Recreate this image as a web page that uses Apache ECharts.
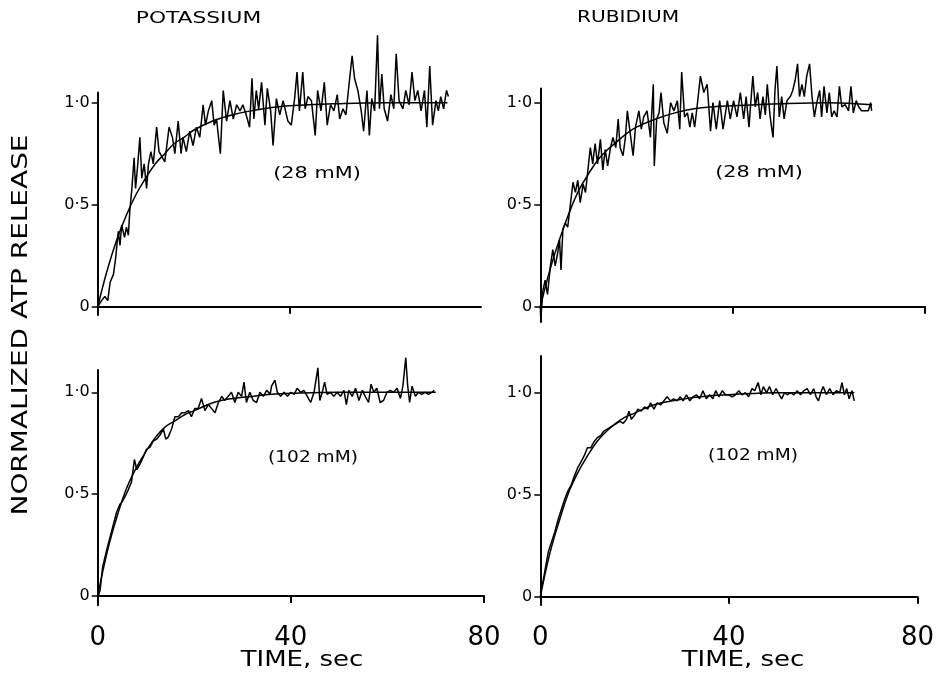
<!DOCTYPE html>
<html>
<head>
<meta charset="utf-8">
<script src="https://cdn.jsdelivr.net/npm/echarts@6/dist/echarts.min.js"></script>
<style>
html,body{margin:0;padding:0;background:#fff;}
#c{width:937px;height:676px;}
</style>
</head>
<body>
<div id="c"></div>
<script>
// ---- data (time in sec, normalized ATP release) ----
const panelTitles = ['POTASSIUM', 'RUBIDIUM'];
const concLabels = ['(28 mM)', '(28 mM)', '(102 mM)', '(102 mM)'];
const xTickValues = [0, 40, 80];
const yTickValues = [0, 0.5, 1.0];
const xAxisTitle = 'TIME, sec';
const yAxisTitle = 'NORMALIZED ATP RELEASE';

const potassium28Trace = [[0,0],[0.8,0.03],[1.5,0.05],[2.1,0.03],[2.6,0.12],[3.3,0.16],[3.75,0.24],[4.3,0.37],[4.65,0.30],[5.0,0.40],[5.6,0.34],[6.0,0.39],[6.4,0.35],[6.7,0.47],[7.1,0.57],[7.6,0.73],[7.9,0.58],[8.3,0.68],[8.8,0.83],[9.2,0.63],[9.7,0.70],[10.2,0.58],[10.6,0.70],[11.1,0.76],[11.6,0.70],[12.3,0.88],[12.8,0.76],[13.3,0.74],[14.0,0.71],[14.9,0.88],[15.6,0.83],[16.1,0.75],[16.8,0.91],[17.4,0.75],[17.8,0.83],[18.5,0.76],[19.2,0.86],[19.9,0.79],[20.6,0.88],[21.3,0.83],[22.0,0.99],[22.5,0.89],[23.1,0.96],[23.8,1.01],[24.3,0.89],[24.8,0.92],[25.6,0.75],[26.2,1.06],[26.9,0.91],[27.6,1.01],[28.3,0.92],[29.0,0.99],[29.7,0.96],[30.3,0.99],[31.0,0.94],[31.7,0.88],[32.2,1.12],[32.6,0.92],[33.1,1.06],[33.6,0.97],[34.2,1.10],[34.9,0.89],[35.4,1.07],[36.1,0.96],[36.6,0.79],[37.3,1.02],[38.0,0.94],[38.7,1.01],[39.7,0.91],[40.4,0.89],[41.1,1.02],[41.6,1.15],[42.1,0.96],[42.8,1.15],[43.3,0.97],[43.9,1.03],[44.6,1.01],[45.4,0.84],[45.9,1.06],[46.6,0.96],[47.3,1.10],[47.9,0.89],[48.6,0.99],[49.3,0.96],[50.0,1.04],[50.5,0.92],[51.2,0.97],[51.8,0.94],[52.5,1.10],[53.1,1.23],[53.6,1.12],[54.3,1.06],[55.0,0.96],[55.5,0.86],[56.2,1.06],[56.7,0.84],[57.2,1.02],[57.8,0.96],[58.4,1.33],[58.8,0.97],[59.3,1.14],[59.8,0.97],[60.5,0.91],[61.2,1.04],[61.8,0.97],[62.3,1.24],[62.9,1.01],[63.7,0.97],[64.3,1.06],[65.0,0.99],[65.6,1.15],[66.2,1.01],[66.8,1.06],[67.5,0.96],[68.2,1.06],[68.7,0.88],[69.3,1.18],[69.9,0.89],[70.6,1.01],[71.1,0.96],[71.6,1.03],[72.2,0.97],[72.8,1.06],[73.2,1.03]];
const potassium28Fit = [[0,0],[2,0.18],[4,0.33],[6,0.45],[8,0.55],[10,0.63],[12,0.70],[14,0.75],[16,0.80],[18,0.83],[20,0.865],[24,0.91],[28,0.94],[32,0.96],[36,0.975],[40,0.985],[50,0.995],[60,1.0],[73,1.0]];

const rubidium28Trace = [[0,0],[0.1,-0.06],[0.55,0.08],[1.0,0.13],[1.5,0.06],[2.1,0.20],[2.6,0.28],[3.1,0.20],[3.6,0.26],[4.0,0.33],[4.3,0.18],[4.7,0.38],[5.2,0.41],[5.7,0.39],[6.2,0.49],[6.8,0.61],[7.3,0.56],[7.8,0.62],[8.3,0.51],[8.9,0.60],[9.4,0.56],[9.9,0.67],[10.4,0.78],[10.9,0.70],[11.4,0.80],[11.9,0.70],[12.5,0.82],[13.0,0.67],[13.5,0.77],[14.0,0.69],[14.6,0.78],[15.1,0.83],[15.7,0.78],[16.2,0.92],[16.6,0.78],[17.2,0.74],[17.7,0.83],[18.1,0.96],[18.7,0.85],[19.3,0.74],[19.8,0.88],[20.5,0.96],[21.0,0.87],[21.5,0.93],[22.2,0.96],[22.9,0.83],[23.5,1.09],[23.7,0.69],[24.2,0.92],[24.7,0.95],[25.1,1.05],[25.7,0.90],[26.4,0.85],[27.1,1.00],[27.8,0.96],[28.5,1.01],[29.0,0.87],[29.4,1.15],[30.0,0.93],[30.6,0.95],[31.1,0.88],[31.6,0.95],[32.1,0.88],[32.6,0.98],[33.3,1.13],[34.0,1.05],[34.7,1.09],[35.4,0.86],[35.9,1.00],[36.6,0.87],[37.3,1.01],[38.0,0.87],[38.9,1.01],[39.5,0.92],[40.2,1.01],[40.9,0.93],[41.6,1.05],[42.3,0.92],[42.8,1.03],[43.4,0.88],[43.8,1.01],[44.2,1.13],[44.7,0.98],[45.2,1.05],[45.7,0.92],[46.3,1.03],[46.8,0.94],[47.2,1.09],[47.8,0.93],[48.4,0.83],[48.8,1.06],[49.2,1.18],[49.7,0.93],[50.2,1.03],[50.7,0.92],[51.3,1.01],[52.0,1.03],[52.5,1.06],[53.0,1.11],[53.5,1.19],[53.9,1.03],[54.4,1.09],[54.9,1.03],[55.4,1.13],[56.0,1.19],[56.5,1.03],[57.0,0.93],[57.5,1.00],[58.1,1.06],[58.5,0.93],[59.0,1.08],[59.6,0.95],[60.1,1.05],[60.6,0.93],[61.1,0.96],[61.7,0.93],[62.2,1.08],[62.7,0.98],[63.4,0.99],[64.1,0.96],[64.6,1.08],[65.1,0.95],[65.7,1.01],[66.2,0.98],[66.8,0.96],[67.5,0.96],[68.2,0.96],[68.7,1.00],[68.9,0.96]];
const rubidium28Fit = [[0,0],[2,0.18],[4,0.33],[6,0.46],[8,0.57],[10,0.65],[12,0.72],[14,0.77],[16,0.81],[18,0.85],[20,0.88],[24,0.92],[28,0.95],[32,0.97],[36,0.98],[40,0.985],[50,0.995],[60,1.0],[69,0.99]];

const potassium102Trace = [[0,-0.01],[0.5,0.03],[1.0,0.14],[1.9,0.23],[2.9,0.32],[3.9,0.41],[4.6,0.45],[5.0,0.46],[5.7,0.49],[6.3,0.52],[7.0,0.56],[7.6,0.67],[8.1,0.62],[8.8,0.65],[9.4,0.68],[10.1,0.72],[10.8,0.73],[11.5,0.76],[12.2,0.77],[12.9,0.79],[13.6,0.82],[14.1,0.77],[14.6,0.78],[15.3,0.82],[16.0,0.88],[16.7,0.88],[17.4,0.90],[18.1,0.90],[18.8,0.91],[19.4,0.88],[20.1,0.92],[20.8,0.92],[21.5,0.97],[22.2,0.91],[22.9,0.94],[23.6,0.92],[24.3,0.90],[25.0,0.95],[25.7,0.98],[26.3,0.96],[27.0,0.98],[27.7,1.00],[28.4,0.95],[29.1,1.00],[29.8,0.98],[30.3,1.05],[30.8,0.95],[31.5,1.00],[32.2,0.96],[32.9,0.95],[33.6,1.00],[34.3,0.98],[35.0,1.01],[35.7,0.99],[36.0,1.03],[36.7,1.06],[37.2,1.00],[37.9,0.98],[38.6,1.00],[39.3,0.98],[40.0,1.00],[40.7,0.99],[41.3,1.02],[42.0,1.00],[42.7,1.01],[43.4,0.98],[44.1,0.95],[44.8,1.00],[45.6,1.12],[46.0,0.96],[46.5,1.00],[47.0,1.05],[47.5,0.99],[48.2,1.00],[48.9,0.98],[49.6,1.00],[50.3,0.98],[51.0,1.01],[51.5,0.94],[52.0,1.01],[52.7,0.98],[53.4,1.02],[54.1,0.96],[54.8,1.01],[55.4,0.98],[56.1,0.95],[56.6,1.04],[57.2,1.00],[57.8,1.02],[58.5,0.95],[59.2,0.96],[59.9,1.00],[60.6,1.01],[61.3,1.00],[62.0,1.02],[62.7,0.97],[63.2,1.03],[63.8,1.17],[64.2,1.03],[64.6,0.95],[65.1,1.03],[65.8,0.98],[66.4,1.00],[67.1,0.99],[67.8,1.00],[68.5,0.99],[69.2,1.00],[69.7,1.01]];
const potassium102Fit = [[0,0],[2,0.22],[4,0.39],[6,0.53],[8,0.63],[10,0.71],[12,0.78],[14,0.83],[16,0.86],[18,0.89],[20,0.91],[24,0.95],[28,0.97],[32,0.98],[36,0.99],[40,0.995],[50,1.0],[60,1.0],[70,1.0]];

const rubidium102Trace = [[0,0.02],[0.55,0.07],[1.0,0.13],[1.7,0.22],[2.4,0.27],[3.1,0.32],[3.8,0.38],[4.5,0.43],[5.2,0.48],[5.9,0.52],[6.6,0.55],[7.2,0.59],[7.9,0.63],[8.6,0.66],[9.3,0.69],[10.0,0.73],[10.7,0.73],[11.4,0.76],[12.1,0.78],[12.8,0.79],[13.4,0.81],[14.1,0.82],[14.8,0.83],[15.5,0.84],[16.2,0.85],[16.9,0.86],[17.6,0.85],[18.3,0.87],[18.8,0.91],[19.3,0.87],[20.0,0.89],[20.7,0.92],[21.4,0.91],[22.1,0.93],[22.8,0.92],[23.4,0.95],[24.1,0.92],[24.8,0.95],[25.5,0.94],[26.2,0.96],[26.9,0.98],[27.6,0.96],[28.3,0.97],[29.0,0.96],[29.7,0.98],[30.3,0.96],[31.0,0.99],[31.7,0.96],[32.4,0.98],[33.1,0.99],[33.8,0.97],[34.5,1.01],[35.2,0.97],[35.9,0.99],[36.6,0.97],[37.2,1.01],[37.9,0.98],[38.6,1.01],[39.3,0.99],[40.0,0.99],[40.7,0.98],[41.4,0.99],[42.1,1.01],[42.8,0.99],[43.5,1.00],[44.2,0.98],[44.9,1.02],[45.5,1.01],[46.2,1.05],[46.8,0.99],[47.3,1.03],[48.0,1.00],[48.6,1.03],[49.3,0.99],[50.0,1.02],[50.7,0.99],[51.2,0.97],[51.8,1.00],[52.4,0.99],[53.1,1.00],[53.8,0.99],[54.5,1.01],[55.2,0.99],[55.9,1.01],[56.6,1.02],[57.3,0.99],[58.0,1.02],[58.5,0.98],[59.0,0.96],[59.5,1.00],[60.0,1.03],[60.7,0.99],[61.4,1.02],[62.1,0.99],[62.8,1.01],[63.5,1.00],[64.0,1.05],[64.5,0.99],[65.0,1.02],[65.5,0.97],[66.1,1.01],[66.6,0.96]];
const rubidium102Fit = [[0,0],[2,0.21],[4,0.37],[6,0.51],[8,0.61],[10,0.69],[12,0.76],[14,0.81],[16,0.85],[18,0.88],[20,0.90],[24,0.94],[28,0.96],[32,0.975],[36,0.985],[40,0.99],[50,1.0],[60,1.0],[66.6,1.0]];

// ---- layout ----
const FONT = '"DejaVu Sans", sans-serif';
const panels = [
  {grid:{left:97.7, top:92.5, width:383.3, height:222.4}, yr:[-0.04,1.05], bottom:false, xTicks:[40], trace:potassium28Trace, fit:potassium28Fit},
  {grid:{left:540.3, top:88.4, width:384.7, height:233.6}, yr:[-0.075,1.07], bottom:false, xTicks:[40,80], trace:rubidium28Trace, fit:rubidium28Fit},
  {grid:{left:97.7, top:369.9, width:386.3, height:235.3}, yr:[-0.045,1.11], bottom:true, xTicks:[40,80], trace:potassium102Trace, fit:potassium102Fit},
  {grid:{left:540.3, top:356, width:386.4, height:248.9}, yr:[-0.04,1.18], bottom:true, xTicks:[40,80], trace:rubidium102Trace, fit:rubidium102Fit}
];

const grid = [], xAxis = [], yAxis = [], series = [];
panels.forEach((p, i) => {
  grid.push(Object.assign({containLabel:false}, p.grid));
  xAxis.push({
    type:'value', gridIndex:i, min:0, max:80,
    axisLine:{show:true, onZero:true, lineStyle:{color:'#000', width:2}},
    axisTick:{show:true, inside:false, length:7, customValues:p.xTicks, lineStyle:{color:'#000', width:2}},
    axisLabel:{show:p.bottom, customValues:xTickValues, margin:20, color:'#000', fontFamily:FONT, fontSize:26},
    splitLine:{show:false}
  });
  yAxis.push({
    type:'value', gridIndex:i, min:p.yr[0], max:p.yr[1],
    axisLine:{show:true, onZero:false, lineStyle:{color:'#000', width:2}},
    axisTick:{show:true, inside:false, length:6, customValues:yTickValues, lineStyle:{color:'#000', width:1.5}},
    axisLabel:{show:true, customValues:yTickValues, margin:8, color:'#000', fontFamily:FONT, fontSize:16,
      formatter: v => (Math.abs(v) < 1e-9 ? '0' : v.toFixed(1).replace('.', '\u00b7'))},
    splitLine:{show:false}
  });
  series.push({
    type:'line', xAxisIndex:i, yAxisIndex:i, data:p.trace, showSymbol:false, symbol:'none',
    clip:false, lineStyle:{color:'#000', width:1.5}, animation:false
  });
  series.push({
    type:'line', xAxisIndex:i, yAxisIndex:i, data:p.fit, showSymbol:false, symbol:'none', smooth:0.4,
    clip:false, lineStyle:{color:'#000', width:1.5}, animation:false
  });
});

function txt(text, x, y, size, sx, rot) {
  return {type:'text', x:x, y:y, rotation:rot||0, scaleX:sx||1, scaleY:1,
    style:{text:text, font:size + 'px ' + FONT, fill:'#000', align:'center', verticalAlign:'middle',
      textAlign:'center', textVerticalAlign:'middle'}};
}

const graphic = [
  txt(panelTitles[0], 198.5, 19, 16, 1.36),
  txt(panelTitles[1], 628, 18, 16, 1.26),
  txt(concLabels[0], 317, 174, 16, 1.3),
  txt(concLabels[1], 759, 173, 16, 1.3),
  txt(concLabels[2], 313, 458, 16, 1.16),
  txt(concLabels[3], 753, 456, 16, 1.16),
  txt(xAxisTitle, 302, 660, 22, 1.18),
  txt(xAxisTitle, 743, 660, 22, 1.18),
  txt(yAxisTitle, 21.5, 325, 22, 1.27, Math.PI / 2)
];

const chart = echarts.init(document.getElementById('c'), null, {renderer:'canvas'});
chart.setOption({
  backgroundColor:'#fff',
  animation:false,
  grid:grid, xAxis:xAxis, yAxis:yAxis, series:series, graphic:graphic
});
</script>
</body>
</html>
